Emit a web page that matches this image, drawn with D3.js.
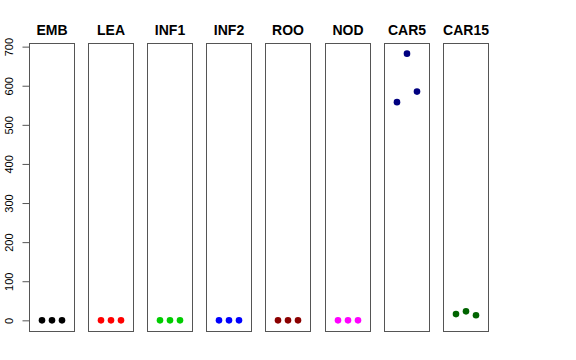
<!DOCTYPE html>
<html lang="en">
<head>
<meta charset="UTF-8">
<script src="https://d3js.org/d3.v7.min.js"></script>
<style>
  body { margin: 0; background: #fff; }
  svg { display: block; font-family: "Liberation Sans", Arial, sans-serif; }
  .title { font-weight: bold; font-size: 14px; }
  .box { fill: none; stroke: #555; stroke-width: 1; }
</style>
</head>
<body>
<div id="chart"></div>
<script>
    const groups = ["EMB", "LEA", "INF1", "INF2", "ROO", "NOD", "CAR5", "CAR15"];
    const colors = ["#000000", "#FF0000", "#00CD00", "#0000FF", "#8B0000", "#FF00FF", "#000080", "#006400"];
    const values = [
        [0, 0, 0],
        [0, 0, 0],
        [0, 0, 0],
        [0, 0, 0],
        [0, 0, 0],
        [0, 0, 0],
        [558, 682, 585],
        [16, 23, 13]
    ];
    const yTicks = [0, 100, 200, 300, 400, 500, 600, 700];

    const width = 576, height = 360;
    const panelW = 45, step = 59.1, left0 = 29;
    const plotTop = 43, plotBottom = 331;

    const svg = d3.select("#chart").append("svg")
        .attr("width", width)
        .attr("height", height);

    const all = values.flat();
    const lo = d3.min(all), hi = d3.max(all);
    const pad = (hi - lo) * 0.04;
    const y = d3.scaleLinear().domain([lo - pad, hi + pad]).range([plotBottom, plotTop]);
    const x = d3.scaleLinear().domain([-0.25, 4.25]).range([0, panelW]);

    groups.forEach((g, i) => {
        const px = Math.round(left0 + i * step) + 0.5;
        const panel = svg.append("g").attr("transform", `translate(${px},0)`);

        panel.append("rect")
            .attr("class", "box")
            .attr("x", 0).attr("y", plotTop + 0.5)
            .attr("width", panelW).attr("height", plotBottom - plotTop);

        panel.append("text")
            .attr("class", "title")
            .attr("x", panelW / 2).attr("y", 35)
            .attr("text-anchor", "middle")
            .text(g);

        panel.selectAll("circle")
            .data(values[i])
            .join("circle")
            .attr("cx", (d, j) => x(j + 1))
            .attr("cy", d => y(d))
            .attr("r", 3.3)
            .attr("fill", colors[i]);

        if (i === 0) {
            const axis = d3.axisLeft(y).tickValues(yTicks).tickSize(7).tickPadding(4);
            const ag = panel.append("g").call(axis);
            ag.select(".domain")
                .attr("d", `M0,${y(0)}V${y(700)}`)
                .attr("stroke", "#555");
            ag.selectAll(".tick line").attr("stroke", "#555");
            ag.selectAll(".tick text")
                .attr("font-size", 11)
                .attr("font-family", "Liberation Sans, Arial, sans-serif")
                .attr("fill", "#000")
                .attr("transform", "rotate(-90)")
                .attr("x", 0)
                .attr("y", -17)
                .attr("dy", "0")
                .attr("text-anchor", "middle");
        }
    });
</script>
</body>
</html>
